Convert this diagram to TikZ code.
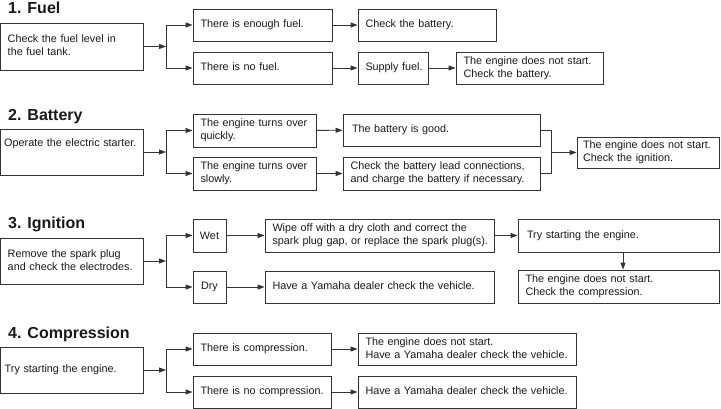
\documentclass[tikz,border=0pt]{standalone}
\usepackage{fontspec}
\setmainfont{Liberation Sans}
\usetikzlibrary{arrows.meta}
\newcommand\bx[7][]{\node[box,minimum width={#5pt-#3pt},minimum height={#6pt-#4pt},text width={#5pt-#3pt-15pt},#1] (#2) at ({(#3+#5)/2},{(#4+#6)/2}) {\begin{tabular}{@{}l@{}}#7\end{tabular}};}
\begin{document}
\begin{tikzpicture}[x=1pt,y=-1pt,
  box/.style={draw=black!80,line width=0.9pt,inner xsep=7.5pt,inner ysep=0pt,align=left,
    font=\fontsize{10.8}{13}\selectfont,text=black!90},
  title/.style={font=\fontsize{16}{18}\selectfont\bfseries,text=black!90,inner sep=0pt},
  ln/.style={draw=black!80,line width=0.9pt},
  arr/.style={ln,-{Triangle[length=7pt,width=5pt]}}]
\useasboundingbox (0,0) rectangle (721,409);
\coordinate (jx) at (166,0);
\coordinate (mx) at (551,0);
% titles
\node[title,anchor=base west] (t1) at (8,14) {1. Fuel};
\node[title,anchor=base west] (t2) at (8,121) {2. Battery};
\node[title,anchor=base west] (t3) at (8,229) {3. Ignition};
\node[title,anchor=base west] (t4) at (8,338) {4. Compression};
% section 1
\bx[inner xsep=5.5pt,text width={128pt}]{A1}{0.5}{23}{143}{70}{Check the fuel level in\\the fuel tank.}
\bx{B1}{193}{9}{332}{41}{There is enough fuel.}
\bx{B2}{193}{52}{332}{84}{There is no fuel.}
\bx{C1}{358}{9}{496}{41}{Check the battery.}
\bx{C2}{358}{52}{428}{84}{Supply fuel.}
\bx{D2}{456}{52}{603}{84}{The engine does not start.\\Check the battery.}
\draw[arr] (A1.east) -- (A1.east -| jx);
\draw[ln] (B1.west -| jx) -- (B2.west -| jx);
\draw[arr] (B1.west -| jx) -- (B1.west);
\draw[arr] (B2.west -| jx) -- (B2.west);
\draw[arr] (B1) -- (C1);
\draw[arr] (B2) -- (C2);
\draw[arr] (C2) -- (D2);
% section 2
\bx[inner xsep=3.5pt,text width={135pt}]{A2}{0.5}{129}{143}{175}{\raisebox{15pt}{Operate the electric starter.}}
\bx{B3}{193}{114}{316}{147}{The engine turns over\\quickly.}
\bx{B4}{193}{157}{316}{190}{The engine turns over\\slowly.}
\bx[inner xsep=9pt,text width={179pt}]{C3}{343}{114}{540}{146}{The battery is good.}
\bx{C4}{343}{157}{540}{190}{Check the battery lead connections,\\and charge the battery if necessary.}
\bx[inner xsep=6pt,text width={130pt}]{D3}{577}{137}{719}{168}{The engine does not start.\\Check the ignition.}
\draw[arr] (A2.east) -- (A2.east -| jx);
\draw[ln] (B3.west -| jx) -- (B4.west -| jx);
\draw[arr] (B3.west -| jx) -- (B3.west);
\draw[arr] (B4.west -| jx) -- (B4.west);
\draw[arr] (B3) -- (C3);
\draw[arr] (B4) -- (C4);
\draw[ln] (C3.east) -- (C3.east -| mx) -- (C4.east -| mx) -- (C4.east);
\draw[arr] (D3.west -| mx) -- (D3.west);
% section 3
\bx[inner xsep=5.5pt,text width={128pt}]{A3}{0.5}{238}{143}{284}{Remove the spark plug\\and check the electrodes.}
\node[box,minimum width=33pt,minimum height=33pt,inner xsep=2pt] (W) at (209.5,235.5) {Wet};
\node[box,minimum width=33pt,minimum height=32pt,inner xsep=2pt] (Dr) at (209.5,287) {Dry};
\bx{Wp}{265}{219}{494}{252}{Wipe off with a dry cloth and correct the\\spark plug gap, or replace the spark plug(s).}
\bx{Hv}{265}{271}{494}{303}{Have a Yamaha dealer check the vehicle.}
\bx[inner xsep=9pt,text width={183pt}]{Tr}{518}{219}{719}{252}{Try starting the engine.}
\bx{Cp}{518}{270}{719}{303}{The engine does not start.\\Check the compression.}
\draw[arr] (A3.east) -- (A3.east -| jx);
\draw[ln] (W.west -| jx) -- (Dr.west -| jx);
\draw[arr] (W.west -| jx) -- (W.west);
\draw[arr] (Dr.west -| jx) -- (Dr.west);
\draw[arr] (W) -- (Wp);
\draw[arr] (Dr) -- (Hv);
\draw[arr] (Wp) -- (Tr);
\draw[arr] ([xshift=4.5pt]Tr.south) -- ([xshift=4.5pt]Cp.north);
% section 4
\bx[inner xsep=4pt,text width={134pt}]{A4}{0.5}{347}{143}{393}{Try starting the engine.}
\bx{B5}{193}{333}{331}{365}{There is compression.}
\bx{B6}{193}{376}{331}{408}{There is no compression.}
\bx{C5}{358}{333}{576}{365}{The engine does not start.\\Have a Yamaha dealer check the vehicle.}
\bx{C6}{358}{376}{576}{408}{Have a Yamaha dealer check the vehicle.}
\draw[arr] (A4.east) -- (A4.east -| jx);
\draw[ln] (B5.west -| jx) -- (B6.west -| jx);
\draw[arr] (B5.west -| jx) -- (B5.west);
\draw[arr] (B6.west -| jx) -- (B6.west);
\draw[arr] (B5) -- (C5);
\draw[arr] (B6) -- (C6);
\end{tikzpicture}
\end{document}
